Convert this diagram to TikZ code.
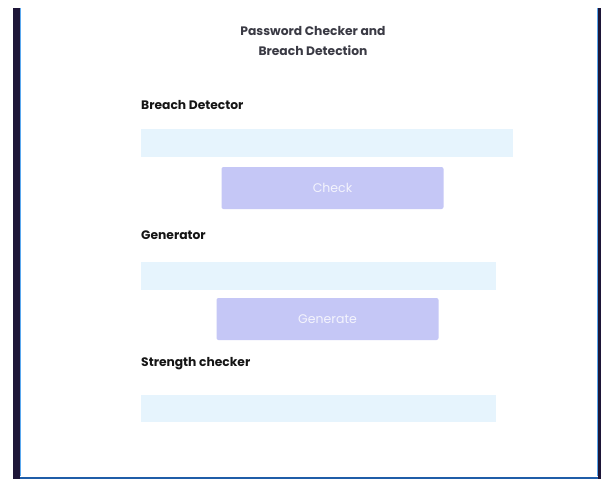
\documentclass[tikz,border=0pt]{standalone}
\usepackage{fontspec}
\setmainfont{Poppins}
\definecolor{barDark}{HTML}{1E1638}
\definecolor{edgeBlue}{HTML}{5AA8EE}
\definecolor{bottomBlue}{HTML}{1F5DA8}
\definecolor{fieldBlue}{HTML}{E6F4FD}
\definecolor{btnPurple}{HTML}{C5C7F6}
\definecolor{btnText}{HTML}{F4F4FD}
\definecolor{titleGrey}{HTML}{3A3A44}
\definecolor{labelBlack}{HTML}{151515}
\tikzset{
  field/.style={fill=fieldBlue, draw=none, rectangle, anchor=north west, inner sep=0pt},
  btn/.style={fill=btnPurple, draw=none, rectangle, rounded corners=2pt, inner sep=0pt, text=btnText, font=\fontsize{12.5}{14}\selectfont},
  lbl/.style={anchor=west, inner sep=0pt, text=labelBlack, font=\fontsize{12.3}{14}\selectfont\bfseries},
  ttl/.style={anchor=center, inner sep=0pt, text=titleGrey, font=\fontsize{12.3}{14}\selectfont\bfseries}
}
\begin{document}
\begin{tikzpicture}[x=1pt,y=-1pt]
\useasboundingbox (0,0) rectangle (602,479);
\fill[white] (0,0) rectangle (602,479);
% frame
\fill[barDark] (13,8) rectangle (20,479);
\draw[edgeBlue, line width=0.8pt] (20.4,8) -- (20.4,476);
\fill[barDark] (597.5,8) rectangle (601,479);
\draw[edgeBlue, line width=0.8pt] (597,8) -- (597,476);
\fill[bottomBlue] (20,476.5) rectangle (598,478.5);
% title
\node[ttl] (t1) at (313,31) {Password Checker and};
\node[ttl] (t2) at (313,51) {Breach Detection};
% breach detector
\node[lbl] (l1) at (141,105) {Breach Detector};
\node[field, minimum width=372pt, minimum height=28pt] (f1) at (141,129) {};
\node[btn, minimum width=222pt, minimum height=42pt] (b1) at (332.5,188) {Check};
% generator
\node[lbl] (l2) at (141,235) {Generator};
\node[field, minimum width=355pt, minimum height=28pt] (f2) at (141,262) {};
\node[btn, minimum width=222pt, minimum height=42pt] (b2) at (327.5,319) {Generate};
% strength
\node[lbl] (l3) at (141,364) {Strength checker};
\node[field, minimum width=355pt, minimum height=27pt] (f3) at (141,395) {};
\end{tikzpicture}
\end{document}
